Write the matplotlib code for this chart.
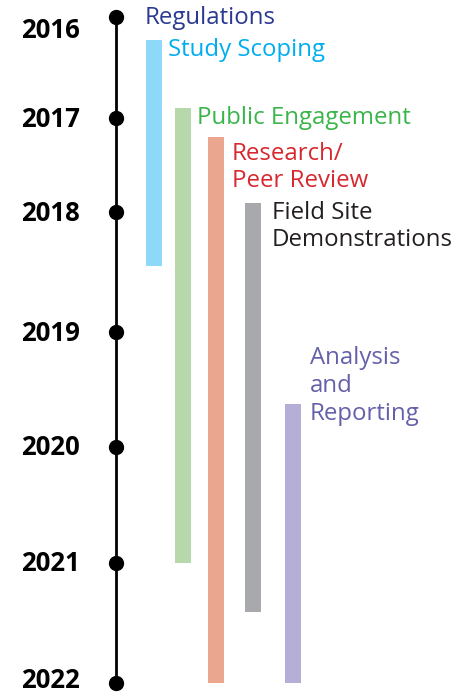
import numpy as np
import matplotlib.pyplot as plt

# timeline years and where each year dot sits (fraction of timeline height, top = 0)
years = [2016, 2017, 2018, 2019, 2020, 2021, 2022]
year_frac = [0.0, 0.1517, 0.2928, 0.4730, 0.6456, 0.8198, 1.0]

# activities: label, start year, end year (fractional years)
labels = ["Study Scoping", "Public Engagement", "Research/\nPeer Review",
          "Field Site\nDemonstrations", "Analysis\nand\nReporting"]
starts = [2016.23, 2016.90, 2017.20, 2017.90, 2019.63]
ends = [2018.45, 2021.00, 2022.00, 2021.41, 2022.00]

bar_colors = ["#8ed8f8", "#b6d8aa", "#eaa68f", "#a8a9ac", "#b5afd8"]
text_colors = ["#00aeef", "#39b54a", "#d7282f", "#231f20", "#6460aa"]
bar_x = [154, 183, 216, 253, 293]
text_gap = [6, 6, 8, 11, 9]


def fwd(y):
    return np.interp(y, years, year_frac)


def inv(f):
    return np.interp(f, year_frac, years)


plt.rcParams['font.family'] = ['Open Sans', 'DejaVu Sans']

fig = plt.figure(figsize=(4.66, 6.92), dpi=100)
top_px, bot_px = 17, 683
ax = fig.add_axes([0, (692 - bot_px) / 692, 1, (bot_px - top_px) / 692])
ax.set_yscale('function', functions=(fwd, inv))
ax.set_ylim(2022, 2016)
ax.set_xlim(0, 466)
ax.axis('off')

# timeline spine and year dots
ax.plot([116, 116], [years[0], years[-1]], color='black', lw=2, solid_capstyle='butt', clip_on=False)
ax.plot([116] * len(years), years, 'o', color='black', ms=10, clip_on=False)

for i, yr in enumerate(years):
    off = -1
    if i == 0:
        off = -13
    elif i == len(years) - 1:
        off = 3
    ax.annotate(str(yr), xy=(80, yr), xytext=(0, off), textcoords='offset pixels',
                ha='right', va='center', fontsize=18.5, fontweight='bold', color='black',
                annotation_clip=False)

# "Regulations" has no bar
ax.annotate("Regulations", xy=(145, 2016), xytext=(0, -1), textcoords='offset pixels',
            ha='left', va='center', fontsize=17.3, color='#2b3990', annotation_clip=False)

# bars
ax.bar(bar_x, np.array(ends) - np.array(starts), bottom=starts, width=16,
       color=bar_colors, clip_on=False)

# labels next to each bar
for i, lab in enumerate(labels):
    x = bar_x[i] + 8 + text_gap[i]
    if i == 4:
        dy = 58
    elif i == 2:
        dy = -5
    else:
        dy = 2
    ax.annotate(lab, xy=(x, starts[i]), xytext=(0, dy), textcoords='offset pixels',
                ha='left', va='top', fontsize=17.3, color=text_colors[i],
                linespacing=1.2, annotation_clip=False)

fig.savefig('out.png', dpi=100)
